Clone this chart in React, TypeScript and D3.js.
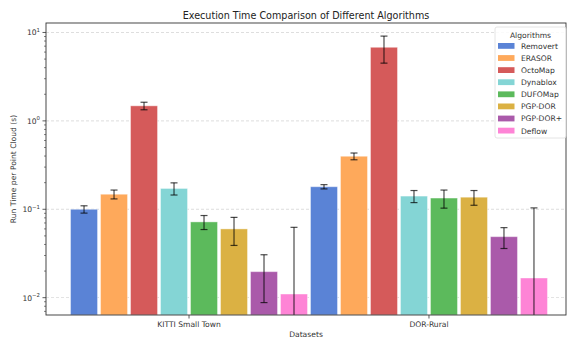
import React from 'react';
import * as d3 from 'd3';

const datasets = ['KITTI Small Town', 'DOR-Rural'];
const algorithms = ['Removert', 'ERASOR', 'OctoMap', 'Dynablox', 'DUFOMap', 'PGP-DOR', 'PGP-DOR+', 'Deflow'];
const colors = ['#5a83d6', '#fea95b', '#d55a5a', '#84d5d5', '#5cba5c', '#dbb143', '#aa5aaa', '#fe84d6'];

// run time per dataset, one entry per algorithm
const kittiTimes = [0.1, 0.148, 1.48, 0.172, 0.072, 0.06, 0.0197, 0.011];
const kittiErrors = [0.0095, 0.017, 0.145, 0.027, 0.013, 0.021, 0.0109, 0.0515];
const ruralTimes = [0.18, 0.398, 6.8, 0.141, 0.134, 0.137, 0.049, 0.0167];
const ruralErrors = [0.01, 0.035, 2.3, 0.022, 0.031, 0.026, 0.013, 0.087];

const yTicks = [0.01, 0.1, 1, 10];
const yExponents = ['\u22122', '\u22121', '0', '1'];

const W = 567;
const H = 339;
const margin = {top: 23, right: 1, bottom: 24, left: 46};
const font = 'DejaVu Sans, sans-serif';

export default function App() {
  const times = [kittiTimes, ruralTimes];
  const errors = [kittiErrors, ruralErrors];
  const barW = 0.125;

  const x = d3.scaleLinear().domain([-0.596, 1.571]).range([margin.left, W - margin.right]);
  const y = d3.scaleLog().domain([0.00637, 12.8]).range([H - margin.bottom, margin.top]);
  const [y0, y1] = y.range();

  const minor: number[] = [];
  [0.001, 0.01, 0.1, 1, 10].forEach(d => {
    for (let k = 2; k <= 9; k++) {
      const v = d * k;
      if (v > y.domain()[0] && v < y.domain()[1]) minor.push(v);
    }
  });

  const bars: any[] = [];
  datasets.forEach((ds, g) => {
    algorithms.forEach((a, i) => {
      bars.push({g, i, cx: g + (i - 3.5) * barW, v: times[g][i], e: errors[g][i]});
    });
  });

  const legX = 495;
  const legY = 27;

  return (
    <svg width={W} height={H} style={{position: 'absolute', left: 0, top: 0}} fontFamily={font}>
      <rect width={W} height={H} fill="white" />
      <defs>
        <clipPath id="plot">
          <rect x={margin.left} y={y1} width={W - margin.right - margin.left} height={y0 - y1} />
        </clipPath>
      </defs>
      <text x={306} y={19} textAnchor="middle" fontSize={9.6} fill="#222">
        Execution Time Comparison of Different Algorithms
      </text>

      {yTicks.map(t => (
        <line key={t} x1={margin.left} x2={W - margin.right} y1={y(t)} y2={y(t)}
          stroke="#bbb" strokeWidth={0.6} strokeDasharray="3,2" opacity={0.8} />
      ))}

      <g clipPath="url(#plot)">
        {bars.map(b => (
          <rect key={b.g + '-' + b.i}
            x={x(b.cx - barW / 2) + 1.5} width={x(barW) - x(0) - 3}
            y={y(b.v)} height={y0 - y(b.v)}
            fill={colors[b.i]} stroke="#ffffff" strokeOpacity={0.4} strokeWidth={1} />
        ))}
        {bars.map(b => {
          const lo = b.v - b.e;
          const top = y(b.v + b.e);
          const bot = lo > 0 ? y(lo) : y0 + 5;
          const cx = x(b.cx);
          return (
            <g key={'e' + b.g + '-' + b.i} stroke="#000" strokeOpacity={0.7} strokeWidth={1.2}>
              <line x1={cx} x2={cx} y1={top} y2={bot} />
              <line x1={cx - 3.5} x2={cx + 3.5} y1={top} y2={top} />
              {lo > 0 && <line x1={cx - 3.5} x2={cx + 3.5} y1={bot} y2={bot} />}
            </g>
          );
        })}
      </g>

      <rect x={margin.left} y={y1} width={W - margin.right - margin.left} height={y0 - y1}
        fill="none" stroke="#333" strokeWidth={0.9} />

      {yTicks.map((t, k) => (
        <g key={'yt' + t}>
          <line x1={margin.left - 3.5} x2={margin.left} y1={y(t)} y2={y(t)} stroke="#333" strokeWidth={0.8} />
          <text x={margin.left - 6} y={y(t) + 3} textAnchor="end" fontSize={7.6} fill="#333">
            10<tspan dy={-3.5} fontSize={5.4}>{yExponents[k]}</tspan>
          </text>
        </g>
      ))}
      {minor.map(t => (
        <line key={'m' + t} x1={margin.left - 2} x2={margin.left} y1={y(t)} y2={y(t)} stroke="#333" strokeWidth={0.6} />
      ))}

      {datasets.map((d, g) => (
        <g key={d}>
          <line x1={x(g)} x2={x(g)} y1={y0} y2={y0 + 3.5} stroke="#333" strokeWidth={0.8} />
          <text x={x(g)} y={y0 + 12} textAnchor="middle" fontSize={7.6} fill="#333">{d}</text>
        </g>
      ))}

      <text x={(margin.left + W - margin.right) / 2} y={H - 2} textAnchor="middle" fontSize={7.6} fill="#333">Datasets</text>
      <text transform={`translate(16,${(y0 + y1) / 2}) rotate(-90)`} textAnchor="middle" fontSize={7.6} fill="#333">
        Run Time per Point Cloud (s)
      </text>

      <g>
        <rect x={legX} y={legY} width={71} height={111} rx={2} fill="white" fillOpacity={0.85} stroke="#ddd" strokeWidth={0.8} />
        <text x={legX + 35.5} y={legY + 10.5} textAnchor="middle" fontSize={7.6} fill="#333">Algorithms</text>
        {algorithms.map((a, i) => (
          <g key={a}>
            <rect x={legX + 3} y={legY + 16 + i * 12.1} width={16.5} height={5.8} fill={colors[i]} />
            <text x={legX + 26} y={legY + 21.8 + i * 12.1} fontSize={7.6} fill="#333">{a}</text>
          </g>
        ))}
      </g>
    </svg>
  );
}
